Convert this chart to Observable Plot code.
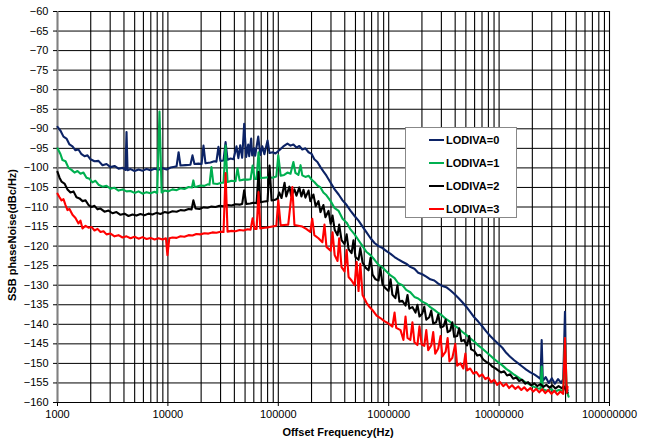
<!DOCTYPE html>
<html><head><meta charset="utf-8">
<script src="https://cdn.jsdelivr.net/npm/d3@7"></script>
<script src="https://cdn.jsdelivr.net/npm/@observablehq/plot@0.6"></script>
<style>
body{margin:0;background:#fff;}
#wrap{position:relative;width:645px;height:439px;font-family:"Liberation Sans",Arial,sans-serif;}
#legend{position:absolute;left:405px;top:127px;width:112px;height:91px;border:1px solid #888;background:#fff;box-sizing:border-box;}
.item{position:absolute;left:23px;height:14px;font-size:11px;font-weight:bold;color:#000;line-height:14px;white-space:nowrap;}
.sw{display:inline-block;width:15px;height:2px;vertical-align:middle;margin-right:2px;position:relative;top:-1px;}
</style></head><body><div id="wrap"></div>
<script>
const seriesNames = ["LODIVA=0","LODIVA=1","LODIVA=2","LODIVA=3"];
const seriesColors = ["#0c2366","#00b050","#000000","#ff0000"];
const yTicks = [-160,-155,-150,-145,-140,-135,-130,-125,-120,-115,-110,-105,-100,-95,-90,-85,-80,-75,-70,-65,-60];
const decades = [1000,10000,100000,1000000,10000000,100000000];
const multipliers = [1,2,3,4,5,6,7,8,9];
const xTitle = "Offset Frequency(Hz)";
const yTitle = "SSB phaseNoise(dBc/Hz)";

const lodiva0 = [[1000,-89.5],[1065,-90.5],[1133,-92],[1206,-92.5],[1284,-94],[1367,-94.5],[1455,-95.5],[1549,-95.3],[1649,-96.5],[1755,-97],[1869,-96.8],[1990,-97.8],[2163,-98.3],[2352,-98.2],[2557,-99.3],[2779,-99],[3021,-99.8],[3284,-99.5],[3570,-100.2],[3881,-100],[4130,-100.5],[4219,-90.8],[4310,-100.6],[4587,-100.3],[4987,-100.8],[5421,-100.4],[5893,-100.7],[6406,-100.3],[6964,-100.6],[7571,-100.2],[8230,-100.5],[8947,-100.1],[9726,-100.4],[10573,-99.9],[11494,-99.7],[11980,-99.6],[12500,-96],[13000,-99.4],[14400,-99.3],[16000,-99.2],[16700,-96.8],[17400,-99],[18900,-98.9],[20200,-99],[21000,-94.3],[21900,-98.8],[24300,-98.6],[26300,-98.3],[27500,-98.4],[28700,-94.6],[29900,-98.2],[31900,-98.1],[33300,-93.4],[34700,-97.9],[36900,-97.6],[39300,-97.8],[41800,-94.5],[43500,-97.5],[45200,-94.2],[47100,-97.4],[49100,-88.7],[51200,-97.2],[53400,-94],[54500,-97],[56800,-92.5],[58000,-96.8],[60500,-95],[61700,-96.9],[65800,-92],[68700,-96.7],[71700,-94.5],[74800,-96.5],[79900,-93],[83300,-96.2],[88900,-96],[94300,-96.3],[102000,-95.5],[111000,-94.5],[121000,-93.8],[129000,-94.3],[137000,-94],[146000,-94.8],[155000,-94.4],[165000,-95.3],[176000,-95],[188000,-96],[200000,-96.4],[212000,-97.8],[226000,-98.5],[241000,-99.8],[256000,-100.9],[273000,-102],[298000,-103.8],[324000,-105.5],[352000,-106.8],[382000,-108.3],[416000,-109.5],[452000,-111],[491000,-112.3],[533000,-113.5],[580000,-115],[630000,-116.5],[685000,-118],[744000,-119.2],[809000,-120],[879000,-120.5],[955000,-121.3],[1040000,-122],[1130000,-122.8],[1220000,-123.4],[1330000,-124],[1440000,-124.5],[1570000,-125.3],[1710000,-125.8],[1850000,-126.8],[2010000,-127.2],[2190000,-127.8],[2380000,-128.5],[2590000,-128.8],[2810000,-129.6],[3060000,-130.2],[3320000,-130.5],[3610000,-131.3],[3920000,-132.2],[4260000,-133.2],[4630000,-134.3],[5040000,-135.5],[5470000,-136.8],[5950000,-138.2],[6470000,-139.3],[7030000,-140.5],[7640000,-141.8],[8310000,-143],[9030000,-144],[9810000,-145],[10700000,-146],[11600000,-147.3],[12600000,-148.3],[13700000,-149.2],[14900000,-150],[16200000,-150.8],[17600000,-151.6],[19200000,-152.3],[20800000,-152.8],[22600000,-153.5],[23700000,-154],[24300000,-144],[24900000,-154.5],[26400000,-153.5],[28200000,-155],[30000000,-153.8],[32000000,-155.2],[34200000,-154],[36500000,-155],[38100000,-154],[39500000,-136.8],[40400000,-155.5],[41700000,-157]];

const lodiva1 = [[1000,-95],[1065,-96.5],[1110,-98],[1182,-98.3],[1258,-100],[1339,-100.5],[1426,-101.2],[1517,-100.8],[1615,-101.5],[1719,-101.2],[1830,-102.5],[1949,-102.8],[2074,-103.7],[2208,-103.3],[2352,-104.3],[2557,-104.8],[2779,-104.6],[3021,-105.3],[3284,-105.1],[3570,-105.8],[3881,-105.5],[4219,-106],[4587,-105.9],[4987,-106.4],[5421,-106],[5893,-106.6],[6406,-106.2],[6964,-106.5],[7571,-106.1],[8000,-106.4],[8390,-85.6],[8770,-106.3],[9340,-105.8],[10100,-106],[11000,-105.5],[12000,-105.7],[13000,-105.2],[14100,-105.4],[15400,-104.9],[16500,-105],[17000,-103.2],[17500,-104.9],[18100,-104.8],[19700,-104.5],[21400,-104.6],[22900,-104.2],[23800,-104.3],[24800,-99.8],[25800,-104],[28000,-104.1],[30500,-103.8],[31900,-103.8],[33300,-94.3],[34700,-103.6],[37700,-103.3],[41000,-103.4],[42700,-100.1],[44600,-103.2],[48400,-103],[52700,-103],[56100,-102.9],[58500,-99.4],[61000,-102.8],[63600,-102.8],[66200,-96],[68700,-102.6],[74800,-102.5],[81300,-102.4],[88400,-102.5],[96000,-102.2],[100000,-96.8],[105000,-102],[113000,-101.8],[121000,-101.2],[129000,-101.5],[137000,-98.5],[143000,-101.3],[152000,-101.8],[159000,-99.3],[165000,-101.9],[176000,-102.3],[188000,-102],[200000,-103],[212000,-103.6],[226000,-104.5],[241000,-105],[256000,-106.3],[273000,-107],[298000,-108.5],[324000,-110.3],[352000,-111],[382000,-113],[416000,-114],[452000,-115.8],[491000,-117],[533000,-118.5],[580000,-120],[630000,-121.5],[685000,-122.3],[744000,-123.5],[809000,-124.8],[879000,-125.5],[955000,-126.5],[1040000,-127.5],[1130000,-128.2],[1220000,-129.5],[1330000,-130],[1440000,-131.2],[1570000,-131.8],[1710000,-133],[1850000,-133.4],[2010000,-134.2],[2190000,-134.7],[2380000,-135.6],[2590000,-136.3],[2810000,-137.1],[3060000,-137.8],[3320000,-138.7],[3610000,-139.4],[3920000,-140.3],[4260000,-141],[4630000,-141.9],[5040000,-142.7],[5470000,-143.6],[5950000,-144.4],[6470000,-145.4],[7030000,-146.2],[7640000,-147.1],[8310000,-148],[9030000,-148.9],[9810000,-149.7],[10700000,-150.5],[11600000,-151.4],[12600000,-152.1],[13700000,-152.9],[14900000,-153.6],[16200000,-154.3],[17600000,-154.9],[19200000,-155.5],[20800000,-156],[22600000,-156.4],[23700000,-156.5],[24300000,-150.8],[24900000,-156.6],[27000000,-157],[29400000,-156.6],[32000000,-157.2],[34800000,-156.8],[38100000,-157],[39500000,-143.5],[41000000,-157],[42600000,-158.5]];

const lodiva2 = [[1000,-101],[1043,-102.5],[1087,-103.5],[1157,-104],[1232,-105.5],[1311,-106.3],[1396,-106],[1486,-107.5],[1583,-107.8],[1685,-108.5],[1794,-108.3],[1910,-109.5],[2033,-110],[2164,-109.7],[2304,-110.6],[2452,-110.4],[2665,-111.2],[2897,-110.9],[3149,-111.6],[3422,-111.3],[3720,-112],[4043,-111.7],[4395,-112.3],[4777,-111.9],[5193,-112.2],[5645,-111.8],[6136,-112.1],[6669,-111.7],[7250,-111.9],[7880,-111.5],[8565,-111.8],[9311,-111.3],[10100,-111.5],[11000,-111.1],[12000,-111.2],[13000,-110.8],[14100,-110.9],[15400,-110.5],[16400,-110.6],[17000,-108.3],[17800,-110.4],[19300,-110.5],[21000,-110.1],[22900,-110.2],[24800,-109.9],[27000,-110],[29300,-109.7],[31900,-109.8],[34700,-109.5],[37700,-109.6],[41000,-109.3],[44600,-109.4],[47100,-109.2],[49100,-105.7],[51200,-109.2],[55700,-109.1],[59300,-108.9],[63600,-109],[66200,-101],[68700,-108.8],[74800,-108.6],[79900,-108.5],[83300,-99.4],[86900,-108.3],[92400,-108.2],[98200,-107.9],[102000,-106.3],[107000,-107.7],[114000,-103.8],[118000,-107.3],[126000,-104.8],[131000,-107.2],[140000,-105.5],[146000,-107.1],[155000,-105],[162000,-107.3],[169000,-105.6],[176000,-107.6],[188000,-105.8],[195000,-108.5],[208000,-106.8],[218000,-109.8],[231000,-108.5],[241000,-111.3],[256000,-109.5],[267000,-112.6],[285000,-111],[298000,-114.3],[310000,-112.2],[324000,-115.8],[344000,-117.2],[356000,-114.5],[374000,-118.5],[398000,-119.5],[416000,-117],[433000,-120.8],[461000,-121.8],[480000,-118.5],[500000,-122.8],[533000,-123.5],[553000,-120.5],[580000,-124.2],[617000,-125.5],[657000,-126.2],[685000,-123],[714000,-127.3],[760000,-128.5],[809000,-128.8],[840000,-125.5],[879000,-129.8],[936000,-130.8],[996000,-131.5],[1040000,-128.5],[1080000,-132.4],[1150000,-133.3],[1200000,-130],[1250000,-134.2],[1330000,-134],[1420000,-135.2],[1480000,-132.5],[1540000,-136],[1640000,-135.6],[1750000,-137],[1820000,-135],[1900000,-138],[2010000,-137.3],[2100000,-135.5],[2190000,-138.8],[2330000,-138.2],[2430000,-136.5],[2530000,-139.8],[2690000,-139.5],[2810000,-137.5],[2950000,-140.8],[3140000,-140.5],[3280000,-138.8],[3420000,-142],[3610000,-141.6],[3770000,-139.5],[3920000,-143.2],[4170000,-143],[4350000,-141],[4550000,-144.3],[4810000,-144],[5120000,-145.4],[5360000,-143],[5580000,-146.4],[5950000,-146.8],[6340000,-148],[6740000,-147.8],[7180000,-149],[7640000,-149.6],[8130000,-150],[8650000,-150.8],[9200000,-151.2],[9800000,-151.8],[10400000,-152.3],[11100000,-152],[11800000,-153.1],[12600000,-152.8],[13400000,-153.9],[14300000,-153.6],[15200000,-154.5],[16200000,-154.2],[17200000,-155.2],[18300000,-154.8],[19500000,-155.6],[20800000,-155.1],[22100000,-155.8],[23700000,-155.3],[25200000,-156],[26800000,-155.5],[28600000,-156.2],[30400000,-155.6],[32400000,-156.4],[34600000,-155.8],[36800000,-156.3],[38700000,-155.9],[40400000,-157],[41700000,-157.5]];

const lodiva3 = [[1000,-106.6],[1043,-107.5],[1087,-108.3],[1133,-108],[1182,-109.5],[1232,-110.8],[1284,-110.5],[1367,-112],[1455,-112.8],[1549,-114.2],[1615,-113.5],[1685,-115.5],[1794,-114.8],[1910,-115.3],[2033,-115.1],[2164,-116],[2304,-115.6],[2452,-116.4],[2611,-116.2],[2779,-117],[3021,-116.8],[3284,-117.5],[3570,-117.2],[3881,-117.8],[4219,-117.5],[4587,-118],[4987,-117.6],[5421,-118.1],[5893,-117.7],[6406,-118.2],[6964,-117.9],[7571,-118.3],[8230,-118],[8947,-118.3],[9600,-118],[9900,-122.3],[10300,-118],[11000,-117.8],[12000,-117.9],[13000,-117.5],[14100,-117.6],[15400,-117.2],[16700,-117.3],[18100,-116.9],[19700,-117],[21400,-116.7],[23300,-116.8],[25300,-116.5],[27500,-116.6],[29900,-116.3],[31900,-116.4],[33300,-101.3],[34700,-116.3],[37700,-116.1],[41000,-116.2],[44600,-115.9],[48400,-116],[52700,-115.7],[56100,-115.8],[58500,-112.9],[61000,-115.6],[63600,-115.6],[66200,-106.2],[68700,-115.5],[74800,-115.3],[81300,-115.2],[88400,-115],[96000,-114.8],[100000,-108.3],[105000,-114.7],[113000,-114.6],[123000,-114.5],[134000,-104.9],[140000,-114.6],[152000,-114.8],[165000,-115],[179000,-115.6],[195000,-116.4],[203000,-113],[212000,-117.2],[231000,-118],[251000,-119],[262000,-114.5],[273000,-120.2],[298000,-121.2],[310000,-116.5],[324000,-122.3],[344000,-123.8],[356000,-118],[374000,-125.4],[398000,-126.5],[416000,-121],[433000,-127.9],[461000,-128.8],[491000,-130],[512000,-124],[533000,-131.5],[553000,-124.5],[580000,-132.5],[630000,-134.5],[671000,-135.6],[714000,-136.4],[777000,-137.8],[840000,-138.4],[913000,-139.2],[996000,-139.8],[1080000,-140.6],[1130000,-137],[1170000,-140.9],[1280000,-141.5],[1360000,-144],[1420000,-138],[1480000,-143.5],[1570000,-144],[1640000,-139.5],[1710000,-144.6],[1820000,-145.3],[1900000,-140.5],[1990000,-145.2],[2100000,-145.5],[2190000,-141.5],[2280000,-146.6],[2430000,-145.4],[2530000,-142],[2640000,-147.5],[2810000,-146.2],[2950000,-143],[3060000,-148.2],[3280000,-147],[3420000,-143.5],[3550000,-149.5],[3770000,-148.6],[4010000,-145],[4170000,-150.6],[4470000,-150],[4740000,-151.3],[4950000,-147.5],[5120000,-151.8],[5470000,-151.3],[5840000,-152.6],[6220000,-152.2],[6620000,-153.3],[7030000,-152.8],[7490000,-154],[7970000,-153.6],[8480000,-154.8],[9030000,-154.2],[9600000,-155.5],[10200000,-154.8],[10900000,-155.8],[11600000,-155.2],[12300000,-156.3],[13100000,-155.6],[14000000,-156.5],[14900000,-155.9],[15900000,-156.8],[16900000,-156.1],[18000000,-157],[19200000,-156.3],[20400000,-157.2],[21700000,-156.5],[23100000,-157.4],[24600000,-156.6],[26200000,-157.6],[27900000,-156.8],[29800000,-157.8],[31700000,-157],[33700000,-158],[35900000,-157.2],[38100000,-157.8],[39500000,-143.5],[41000000,-157.5],[41700000,-156]];

const allSeries = [lodiva0, lodiva1, lodiva2, lodiva3];
const gridX = decades.slice(0, -1).flatMap(d => multipliers.map(m => m * d)).concat([decades[decades.length - 1]]);

const lineMarks = allSeries.map((s, i) =>
  Plot.line(s.map(([f, db]) => ({f, db})), {x: "f", y: "db", stroke: seriesColors[i], strokeWidth: 2.1, strokeLinejoin: "round"})
);

const chart = Plot.plot({
  width: 645,
  height: 439,
  marginLeft: 57,
  marginRight: 36,
  marginTop: 11,
  marginBottom: 37,
  style: {fontFamily: "'Liberation Sans', Arial, sans-serif", fontSize: "11px", color: "#000", background: "#fff"},
  x: {type: "log", domain: [decades[0], decades[decades.length - 1]]},
  y: {domain: [yTicks[0], yTicks[yTicks.length - 1]]},
  marks: [
    Plot.ruleY(yTicks, {stroke: "#000", strokeWidth: 1}),
    Plot.ruleX(gridX, {stroke: "#000", strokeWidth: 1.1}),
    Plot.ruleX([decades[0]], {stroke: "#808080", strokeWidth: 2}),
    Plot.axisY({ticks: yTicks, tickSize: 4, tickPadding: 5, label: null, fontSize: 11}),
    Plot.axisX({ticks: decades, tickFormat: d => String(d), tickSize: 4, tickPadding: 4, label: null, fontSize: 11}),
    ...lineMarks
  ]
});

const svg = d3.select(chart);
svg.append("text").attr("x", 338).attr("y", 436).attr("text-anchor", "middle")
  .attr("font-weight", "bold").attr("font-size", 11).text(xTitle);
svg.append("text").attr("transform", "translate(16,235) rotate(-90)").attr("text-anchor", "middle")
  .attr("font-weight", "bold").attr("font-size", 11).text(yTitle);

const wrap = document.getElementById("wrap");
wrap.appendChild(chart);

const legend = document.createElement("div");
legend.id = "legend";
seriesNames.forEach((name, i) => {
  const item = document.createElement("div");
  item.className = "item";
  item.style.top = (5 + i * 23) + "px";
  const sw = document.createElement("span");
  sw.className = "sw";
  sw.style.background = seriesColors[i];
  item.appendChild(sw);
  item.appendChild(document.createTextNode(name));
  legend.appendChild(item);
});
wrap.appendChild(legend);
</script>
</body></html>
